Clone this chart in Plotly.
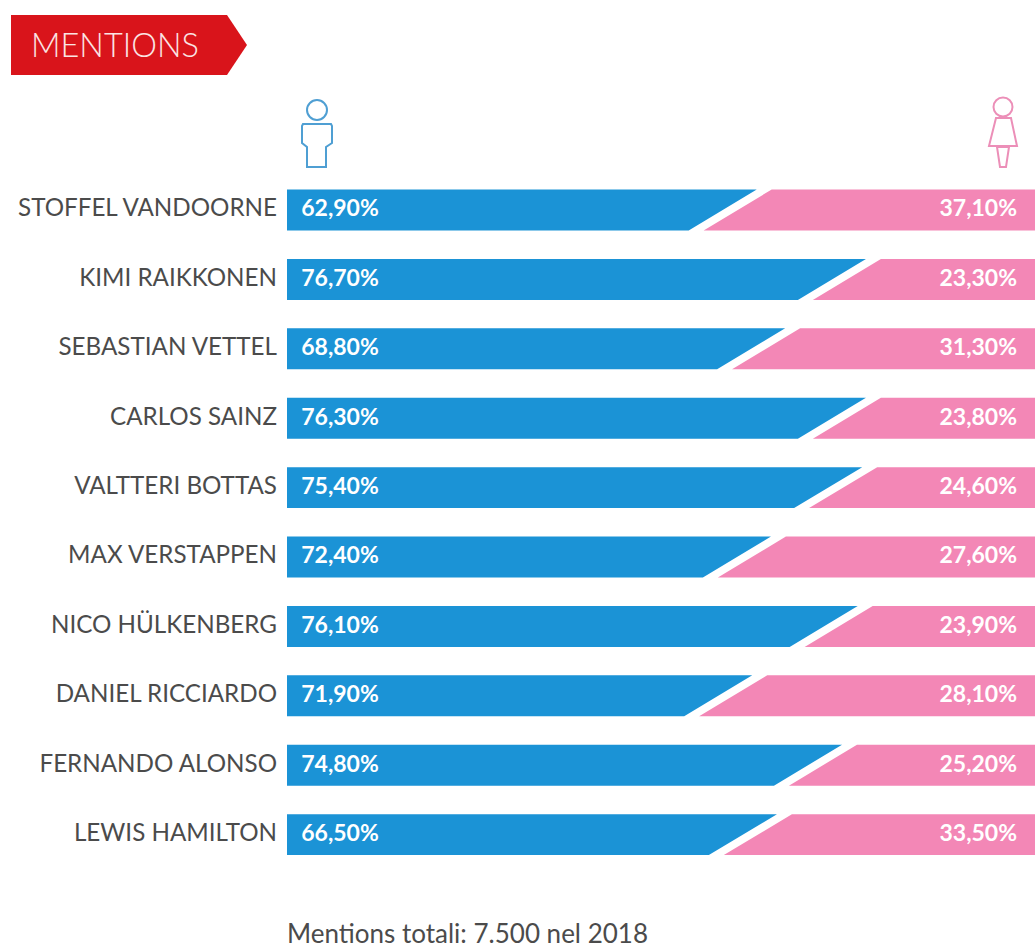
import plotly.graph_objects as go

drivers = ["STOFFEL VANDOORNE", "KIMI RAIKKONEN", "SEBASTIAN VETTEL", "CARLOS SAINZ", "VALTTERI BOTTAS",
           "MAX VERSTAPPEN", "NICO HÜLKENBERG", "DANIEL RICCIARDO", "FERNANDO ALONSO", "LEWIS HAMILTON"]
men_labels = ["62,90%", "76,70%", "68,80%", "76,30%", "75,40%", "72,40%", "76,10%", "71,90%", "74,80%", "66,50%"]
women_labels = ["37,10%", "23,30%", "31,30%", "23,80%", "24,60%", "27,60%", "23,90%", "28,10%", "25,20%", "33,50%"]
# where each blue bar's upper edge ends, as drawn in the picture (% of the bar's full width)
men_drawn = [62.8, 77.4, 66.6, 77.4, 76.9, 64.7, 76.3, 62.2, 74.2, 65.5]

W, H = 1035, 951
LEFT = 287
BLUE, PINK, RED = "#1b93d6", "#f387b6", "#d9141b"
TEXT = "#4b4b4b"
FONT = "Lato"
SLANT, GAP, HALF = 9.1, 2.0, 0.295

rows = list(range(len(drivers)))
bx, by, px, py = [], [], [], []
for r, m in zip(rows, men_drawn):
    bx += [0, m, m - SLANT, 0, 0, None]
    by += [r - HALF, r - HALF, r + HALF, r + HALF, r - HALF, None]
    px += [m + GAP, 100, 100, m + GAP - SLANT, m + GAP, None]
    py += [r - HALF, r - HALF, r + HALF, r + HALF, r - HALF, None]


def X(v):
    return (v - LEFT) / (W - LEFT)


def Y(v):
    return 1 - v / H


def path(points):
    return "M " + " L ".join(f"{X(a):.5f},{Y(b):.5f}" for a, b in points) + " Z"


def circle(cx, cy, r, color):
    return dict(type="circle", xref="paper", yref="paper", x0=X(cx - r), x1=X(cx + r), y0=Y(cy + r), y1=Y(cy - r),
                line=dict(color=color, width=2))


def outline(points, color, fill="rgba(0,0,0,0)", width=2):
    return dict(type="path", xref="paper", yref="paper", path=path(points), fillcolor=fill,
                line=dict(color=color, width=width))


MAN = "#4f9fd3"
WOMAN = "#ec8fb8"
shapes = [
    outline([(11, 15), (227, 15), (247, 45), (227, 75), (11, 75)], RED, RED, 0),
    circle(317, 110, 10, MAN),
    outline([(303, 124), (331, 124), (332, 126), (332, 143), (326, 147), (326, 167), (307, 167), (307, 147),
             (302, 143), (302, 126)], MAN),
    circle(1003, 107, 9.5, WOMAN),
    outline([(996, 118), (1011, 118), (1017, 146), (989, 146)], WOMAN),
    outline([(997, 147), (1009, 147), (1006, 167), (1000, 167)], WOMAN),
]

fig = go.Figure()
fig.add_trace(go.Scatter(x=bx, y=by, fill="toself", fillcolor=BLUE, mode="lines", line=dict(width=0), hoverinfo="skip"))
fig.add_trace(go.Scatter(x=px, y=py, fill="toself", fillcolor=PINK, mode="lines", line=dict(width=0), hoverinfo="skip"))
fig.add_trace(go.Scatter(x=[1.9] * 10, y=[r + 0.01 for r in rows], mode="text", text=men_labels,
                         textposition="middle right", textfont=dict(family=FONT, size=23, color="white", weight=700),
                         hoverinfo="skip"))
fig.add_trace(go.Scatter(x=[97.6] * 10, y=[r + 0.01 for r in rows], mode="text", text=women_labels,
                         textposition="middle left", textfont=dict(family=FONT, size=23, color="white", weight=700),
                         hoverinfo="skip"))

fig.update_layout(
    width=W, height=H, margin=dict(l=LEFT, r=0, t=0, b=0), showlegend=False,
    paper_bgcolor="white", plot_bgcolor="white", shapes=shapes,
    xaxis=dict(range=[0, 100], visible=False, fixedrange=True),
    yaxis=dict(range=[10.677, -3.026], tickmode="array", tickvals=rows, ticktext=drivers, showgrid=False,
               zeroline=False, showline=False, ticks="", ticklabelstandoff=9, ticklabelshift=2, fixedrange=True,
               tickfont=dict(family=FONT, size=24.2, color=TEXT)),
    annotations=[
        dict(xref="paper", yref="paper", x=X(29), y=Y(44), text="MENTIONS", showarrow=False, xanchor="left",
             yanchor="middle", font=dict(family=FONT, size=32.5, color="#fbe4e4", weight=300)),
        dict(xref="paper", yref="paper", x=X(285), y=0, text="Mentions totali: 7.500 nel 2018", showarrow=False,
             xanchor="left", yanchor="bottom", font=dict(family=FONT, size=26, color=TEXT)),
    ],
)
fig.write_html("out.html", config=dict(displayModeBar=False),
               post_script="document.body.style.margin='0';document.documentElement.style.overflow='hidden';")
